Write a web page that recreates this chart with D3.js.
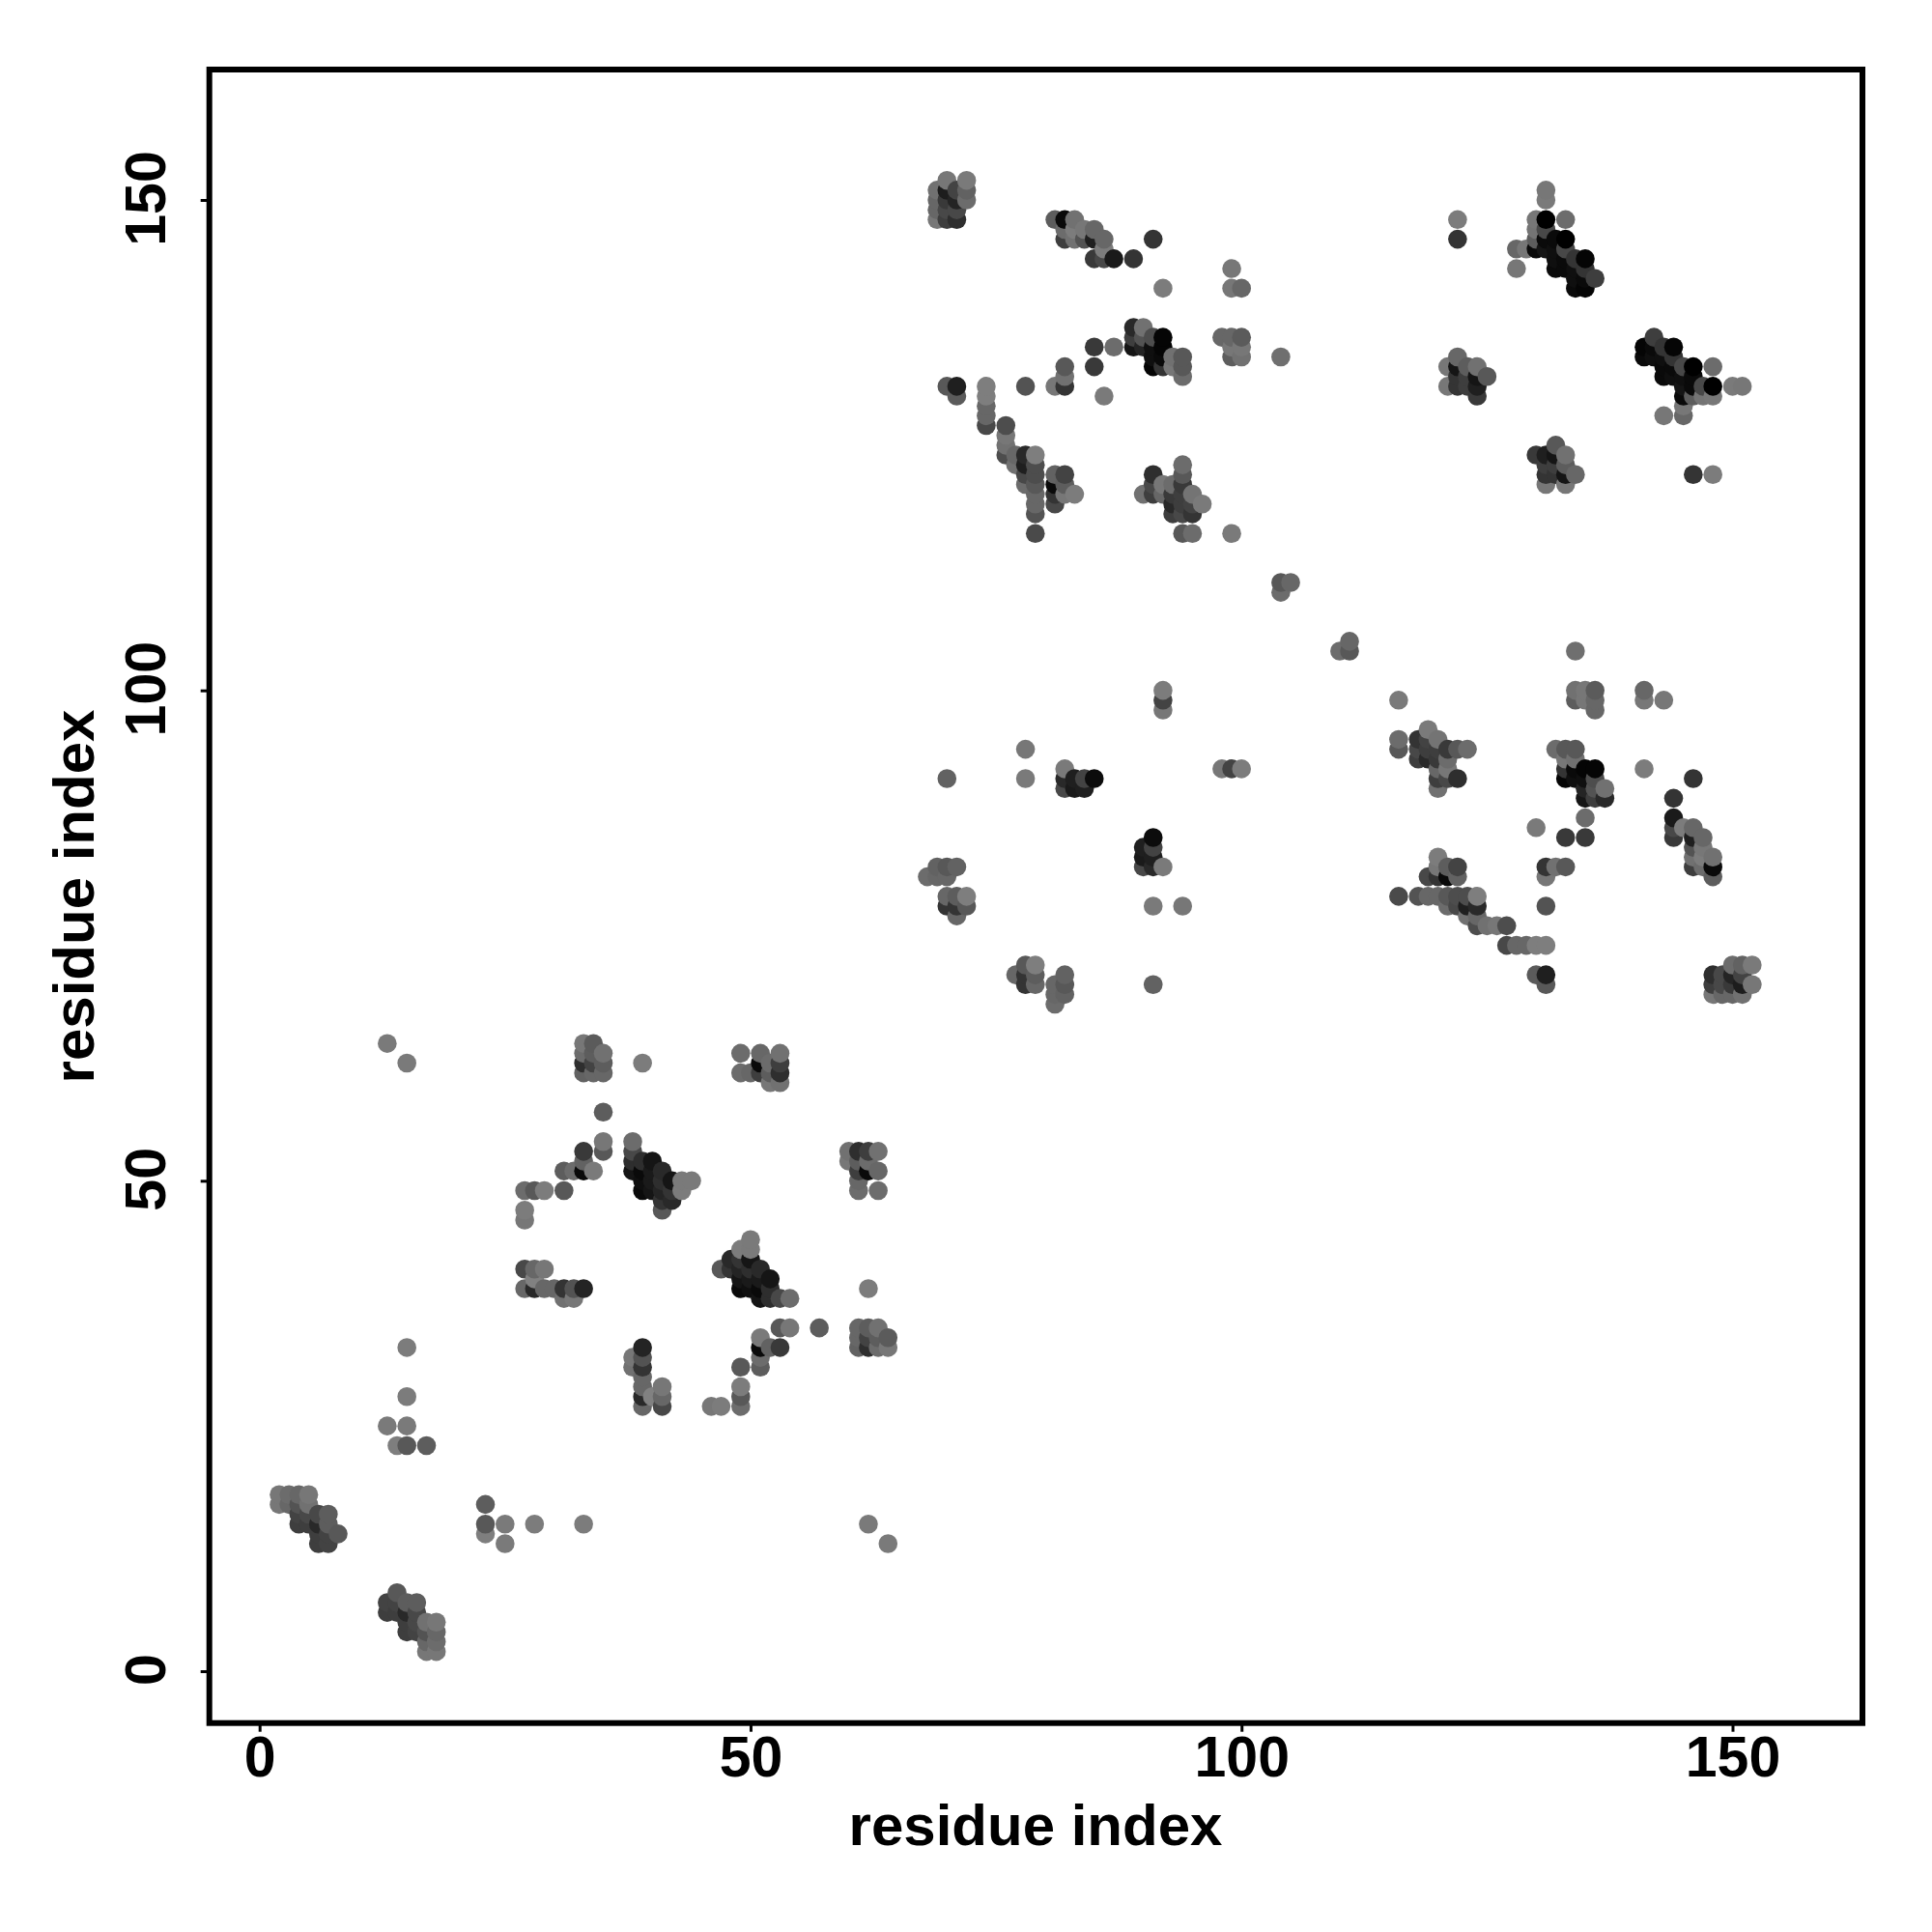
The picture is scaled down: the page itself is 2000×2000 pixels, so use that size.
<!DOCTYPE html>
<html><head><meta charset="utf-8">
<script src="https://cdn.jsdelivr.net/npm/d3@7"></script>
<style>html,body{margin:0;padding:0;background:#fff}svg{display:block}text{font-family:"Liberation Sans",Arial,sans-serif;font-weight:bold;fill:#000}</style>
</head><body><div id="chart"></div>
<script>
const xTicks=[0,50,100,150];
const yTicks=[0,50,100,150];
const xTitle="residue index";
const yTitle="residue index";
// Contacts [i, j, level] with i<j; the map is symmetric. level: 0 = strongest, 128 = weakest.
const contactsDomainA=[
[2,17,115],[2,18,115],[3,17,100],[3,18,105],[4,15,60],[4,16,65],[4,17,80],[4,18,100],
[5,15,60],[5,16,70],[5,17,110],[5,18,115],[6,13,60],[6,14,60],[6,15,40],[6,16,70],
[7,13,65],[7,14,65],[7,15,90],[7,16,90],[8,14,85],
[13,25,118],[13,64,118],[14,23,122],[15,23,85],[15,25,118],[15,28,120],[15,33,120],[15,62,118],[17,23,90]
];
const contactsDomainB=[
[27,39,100],[28,39,40],[29,39,100],[30,39,100],[31,39,50],[32,39,80],[33,39,35],[31,38,110],[32,38,115],[28,40,125],[27,41,70],[28,41,100],[29,41,115],
[27,46,115],[27,47,120],[27,49,105],[28,49,85],[29,49,120],[31,49,85],
[31,51,90],[32,51,105],[33,51,10],[34,51,118],[33,52,95],[33,53,55],[35,53,85],[35,54,115],[35,57,90],
[33,61,95],[34,61,100],[35,61,100],[33,62,45],[34,62,65],[35,62,90],[33,63,105],[34,63,90],[35,63,110],[33,64,115],[34,64,88],
[39,62,120],
[38,51,20],[38,52,45],[38,53,70],[38,54,105],[39,49,10],[39,50,15],[39,51,10],[39,52,45],
[40,49,20],[40,50,25],[40,51,25],[40,52,20],[41,47,85],[41,48,50],[41,49,35],[41,50,45],[41,51,40],
[42,48,40],[42,49,50],[42,50,20],[43,49,120],[43,50,118],[44,50,118],
[49,61,105],[49,63,105],[50,61,100],[51,61,60],[51,62,10],[51,63,100],[52,60,115],[52,61,90],[52,62,105],[53,60,110],[53,61,45],[53,62,60],[53,63,110]
];
const contactsDomainC=[
[69,148,115],[69,149,100],[69,150,100],[69,151,110],[70,148,60],[70,149,70],[70,150,55],[70,151,28],[70,152,115],
[71,148,45],[71,149,70],[71,150,35],[71,151,65],[72,150,105],[72,151,95],[72,152,118],
[70,131,85],[71,130,88],[71,131,30],[74,127,70],[74,128,100],[74,129,100],[74,130,122],[74,131,122],
[76,124,75],[76,125,110],[76,126,115],[76,127,75],[77,123,110],[77,124,100],
[78,121,105],[78,122,70],[78,123,30],[78,124,40],[78,131,80],
[79,116,72],[79,118,80],[79,119,100],[79,120,100],[79,121,85],[79,122,75],[79,123,75],[79,124,122],
[81,119,70],[81,120,50],[81,121,10],[81,122,95],[81,131,115],[82,120,115],[82,121,90],[82,122,65],[82,131,50],[82,132,110],[82,133,85],[83,120,120],
[81,148,90],[82,146,60],[82,147,105],[82,148,10],[83,146,110],[83,147,120],[83,148,110],[84,146,80],[84,147,115],[85,144,55],[85,146,30],[85,147,100],[86,144,70],[86,145,120],[86,146,100],[87,144,25],[89,144,50],[91,146,50],
[85,133,55],[85,135,55],[87,135,105],[86,130,118],[92,141,120],
[89,135,20],[89,136,60],[89,137,40],[90,135,35],[90,136,80],[90,137,110],[91,133,5],[91,134,15],[91,135,15],[91,136,75],[92,133,50],[92,134,10],[92,135,5],[92,136,5],[93,133,115],[93,134,110],[94,132,105],[94,133,85],[94,134,85],
[90,120,110],[91,120,60],[91,121,70],[91,122,45],[92,120,100],[92,121,115],[93,118,60],[93,119,40],[93,120,55],[93,121,105],[94,116,85],[94,118,70],[94,119,60],[94,120,60],[94,121,55],[94,122,85],[94,123,105],[95,116,105],[95,118,50],[95,119,65],[95,120,112],[96,119,118],[99,116,118],
[98,136,100],[99,134,90],[99,135,115],[99,136,100],[100,134,110],[100,135,115],[100,136,88],
[99,141,115],[99,143,115],[100,141,100],[104,134,108],[104,110,105],[104,111,85],[105,111,100],
[70,91,95],[78,91,118],[78,94,115],[82,90,70],[82,91,40],[82,92,118],[83,90,25],[83,91,30],[84,90,30],[84,91,65],[85,91,12],
[92,98,115],[92,99,65],[92,100,120],[68,81,105],[69,81,100],[69,82,95],[70,78,50],[70,79,100],[70,81,100],[70,82,85],[71,77,100],[71,78,50],[71,79,90],[71,82,95],[72,78,85],[72,79,122],
[121,131,115],[121,133,115],[122,131,50],[122,132,50],[122,133,20],[122,134,100],[123,131,60],[123,132,60],[123,133,90],[124,130,55],[124,131,30],[124,132,20],[124,133,110],[125,132,85],
[122,146,50],[122,148,120],[128,143,115],[128,145,100],[129,145,115],
[130,145,10],[130,146,90],[130,147,112],[130,148,115],[131,145,20],[131,146,10],[131,147,70],[131,148,0],[131,150,118],[131,151,115],
[132,143,10],[132,144,15],[132,145,15],[132,146,10],[133,143,10],[133,144,10],[133,145,70],[133,146,0],[133,148,105],
[134,141,10],[134,142,15],[134,143,15],[134,144,50],[135,141,5],[135,142,10],[135,143,50],[135,144,5],[136,142,60]
];

const points=[];
[...contactsDomainA,...contactsDomainB,...contactsDomainC].forEach(([i,j,level])=>{
  points.push({x:i,y:j,level});
  points.push({x:j,y:i,level});
});
points.sort((a,b)=>d3.ascending(a.x,b.x)||d3.ascending(a.y,b.y));

const svg=d3.select("#chart").append("svg").attr("width",2000).attr("height",2000);
svg.append("rect").attr("width",2000).attr("height",2000).attr("fill","#fff");
const x=d3.scaleLinear().domain([0,150]).range([268.7,1793.5]);
const y=d3.scaleLinear().domain([0,150]).range([1730,207]);
const grey=d3.scaleLinear().domain([0,128]).range(["#000000","#848484"]);
const frame={l:216.7,r:1928,t:72,b:1783.7};

svg.append("g").selectAll("circle").data(points).join("circle")
  .attr("cx",d=>x(d.x)).attr("cy",d=>y(d.y)).attr("r",9.8).attr("fill",d=>grey(d.level));

const ax=svg.append("g").attr("transform",`translate(0,${frame.b})`)
  .call(d3.axisBottom(x).tickValues(xTicks).tickSize(9).tickPadding(0).tickFormat(d3.format("d")));
ax.select(".domain").remove();
ax.selectAll("line").attr("stroke","#000").attr("stroke-width",3);
ax.selectAll("text").attr("font-size",59).attr("dy",null).attr("y",1839-frame.b);

const ay=svg.append("g").attr("transform",`translate(${frame.l},0)`)
  .call(d3.axisLeft(y).tickValues(yTicks).tickSize(9).tickPadding(0).tickFormat(d3.format("d")));
ay.select(".domain").remove();
ay.selectAll("line").attr("stroke","#000").attr("stroke-width",3);
ay.selectAll("text").attr("font-size",59).attr("x",null).attr("dy",null)
  .attr("text-anchor","middle")
  .attr("transform",`translate(${170.6-frame.l},-2) rotate(-90)`);

svg.append("rect").attr("x",frame.l).attr("y",frame.t).attr("width",frame.r-frame.l).attr("height",frame.b-frame.t)
  .attr("fill","none").attr("stroke","#000").attr("stroke-width",6);

svg.append("text").attr("x",1072).attr("y",1910).attr("text-anchor","middle").attr("font-size",60).text(xTitle);
svg.append("text").attr("transform","translate(97,928) rotate(-90)").attr("text-anchor","middle").attr("font-size",60).text(yTitle);
</script>
</body></html>
